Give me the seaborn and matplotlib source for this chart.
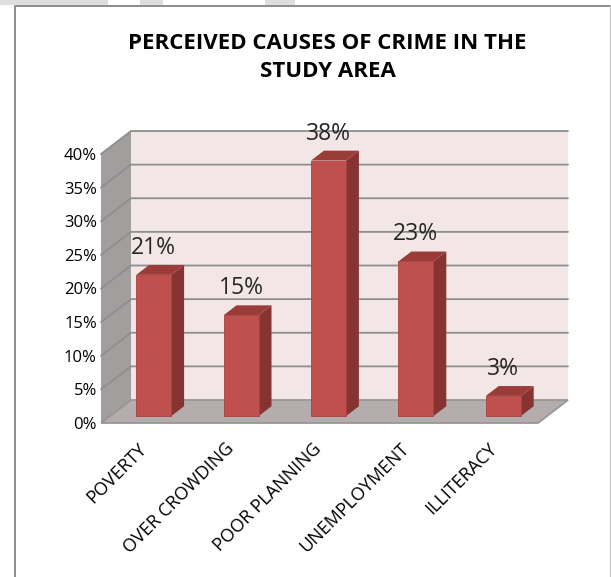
import numpy as np
import matplotlib
matplotlib.use("Agg")
import matplotlib.pyplot as plt
import seaborn as sns
import pandas as pd
from matplotlib.patches import Polygon, Rectangle
from matplotlib.lines import Line2D
from matplotlib.transforms import ScaledTranslation, IdentityTransform

# ---------------- data ----------------
categories = ["POVERTY", "OVER CROWDING", "POOR PLANNING", "UNEMPLOYMENT", "ILLITERACY"]
values = [21, 15, 38, 23, 3]
value_labels = ["21%", "15%", "38%", "23%", "3%"]
ytick_values = [0, 5, 10, 15, 20, 25, 30, 35, 40]
ytick_labels = ["0%", "5%", "10%", "15%", "20%", "25%", "30%", "35%", "40%"]
title = "PERCEIVED CAUSES OF CRIME IN THE\nSTUDY AREA"

# ---------------- style ----------------
sns.set_theme(style="white")
plt.rcParams["font.family"] = ["Open Sans", "DejaVu Sans"]

W, H = 611, 577
DPI = 100
fig = plt.figure(figsize=(W / DPI, H / DPI), dpi=DPI)
fig.patch.set_facecolor("white")

# axes = front plane of the 3-D box
ax = fig.add_axes([101 / W, 154 / H, 437 / W, 269 / H])
ax.patch.set_visible(False)
for s in ax.spines.values():
    s.set_visible(False)

df = pd.DataFrame({"cause": categories, "pct": values})
sns.barplot(data=df, x="cause", y="pct", color="#C0504D", saturation=1,
            width=35 / 87.4, ax=ax, edgecolor="#A8423F", linewidth=0.6, zorder=5)
ax.set_xlim(-0.5, 4.5)
ax.set_ylim(0, 40)
ax.set_xlabel("")
ax.set_ylabel("")
ax.set_yticks(ytick_values)
ax.set_yticklabels(ytick_labels, fontsize=12, color="#000000")
ax.set_xticks(range(len(categories)))
ax.set_xticklabels(categories, rotation=45, ha="right", rotation_mode="anchor",
                   fontsize=13, color="#000000")
ax.tick_params(axis="y", length=0, pad=3)
ax.tick_params(axis="x", length=0, pad=12)
ax.grid(False)
xshift = ScaledTranslation(-7 / DPI, 0, fig.dpi_scale_trans)
for lbl in ax.get_xticklabels():
    lbl.set_transform(lbl.get_transform() + xshift)

# depth vector (pixels) for the 3-D effect
DX, DY = 30.0, 23.0
D_BAR = 0.3      # depth of bar front plane
D_BACK = 1.0     # depth of back wall
BAR_DEPTH = 0.43


def P(x, y, d):
    px, py = ax.transData.transform((x, y))
    return (px + d * DX, py + d * DY)


def poly(pts, fc, ec="none", lw=0, z=1):
    p = Polygon(pts, closed=True, facecolor=fc, edgecolor=ec, linewidth=lw,
                transform=IdentityTransform(), clip_on=False, zorder=z)
    ax.add_patch(p)
    return p


x0, x1 = ax.get_xlim()
y0, y1 = ax.get_ylim()

# back wall
poly([P(x0, y0, D_BACK), P(x1, y0, D_BACK), P(x1, y1, D_BACK), P(x0, y1, D_BACK)],
     "#F3E6E6", z=0.5)
# left side wall
poly([P(x0, y0, 0), P(x0, y0, D_BACK), P(x0, y1, D_BACK), P(x0, y1, 0)],
     "#A29E9E", z=0.6)
# floor
poly([P(x0, y0, 0), P(x1, y0, 0), P(x1, y0, D_BACK), P(x0, y0, D_BACK)],
     "#B5ADAD", ec="#9A9696", lw=1.3, z=0.7)

# gridlines on back wall and left wall
for yv in ytick_values[1:]:
    a = P(x0, yv, 0)
    b = P(x0, yv, D_BACK)
    c = P(x1, yv, D_BACK)
    ax.add_line(Line2D([a[0], b[0], c[0]], [a[1], b[1], c[1]], color="#8E8E8E",
                       lw=1.3, transform=IdentityTransform(), clip_on=False, zorder=0.8))

# bars: shift front faces into the bar plane, add side and top faces
shift = ScaledTranslation(D_BAR * DX / DPI, D_BAR * DY / DPI, fig.dpi_scale_trans)
bars = [p for p in ax.patches if isinstance(p, Rectangle)]
for bar, lab in zip(bars, value_labels):
    bar.set_transform(ax.transData + shift)
    bar.set_clip_on(False)
    bx0 = bar.get_x()
    bx1 = bx0 + bar.get_width()
    h = bar.get_height()
    d0, d1 = D_BAR, D_BAR + BAR_DEPTH
    # side face
    poly([P(bx1, 0, d0), P(bx1, 0, d1), P(bx1, h, d1), P(bx1, h, d0)],
         "#863331", z=4)
    # top face
    poly([P(bx0, h, d0), P(bx1, h, d0), P(bx1, h, d1), P(bx0, h, d1)],
         "#9C3C39", z=4)
    # value label
    ax.text(bx0 + bar.get_width() / 2, h, lab,
            transform=ax.transData + ScaledTranslation(D_BAR * DX / DPI, (D_BAR * DY + 27) / DPI,
                                                       fig.dpi_scale_trans),
            ha="center", va="center", fontsize=16.5, color="#262626", zorder=6)

# title
fig.text(327.5 / W, 1 - 57.5 / H, title, ha="center", va="center",
         fontsize=16, fontweight="bold", color="#000000", linespacing=1.4)

# outer chart frame
fig.add_artist(Line2D([15 / W, 15 / W, 609.5 / W],
                      [0, 1 - 6 / H, 1 - 6 / H],
                      transform=fig.transFigure, color="#8C8C8C", lw=1.4))
fig.add_artist(Line2D([609.5 / W, 609.5 / W], [1 - 6 / H, 0],
                      transform=fig.transFigure, color="#C4C4C4", lw=0.9))
# remnants of the cropped caption strip at the top
for xa, xb in [(0, 108), (140, 163), (265, 295)]:
    fig.add_artist(Rectangle((xa / W, 1 - 5 / H), (xb - xa) / W, 5 / H,
                             transform=fig.transFigure, facecolor="#DEDEDE",
                             edgecolor="none"))

fig.savefig("out.png", dpi=DPI)
